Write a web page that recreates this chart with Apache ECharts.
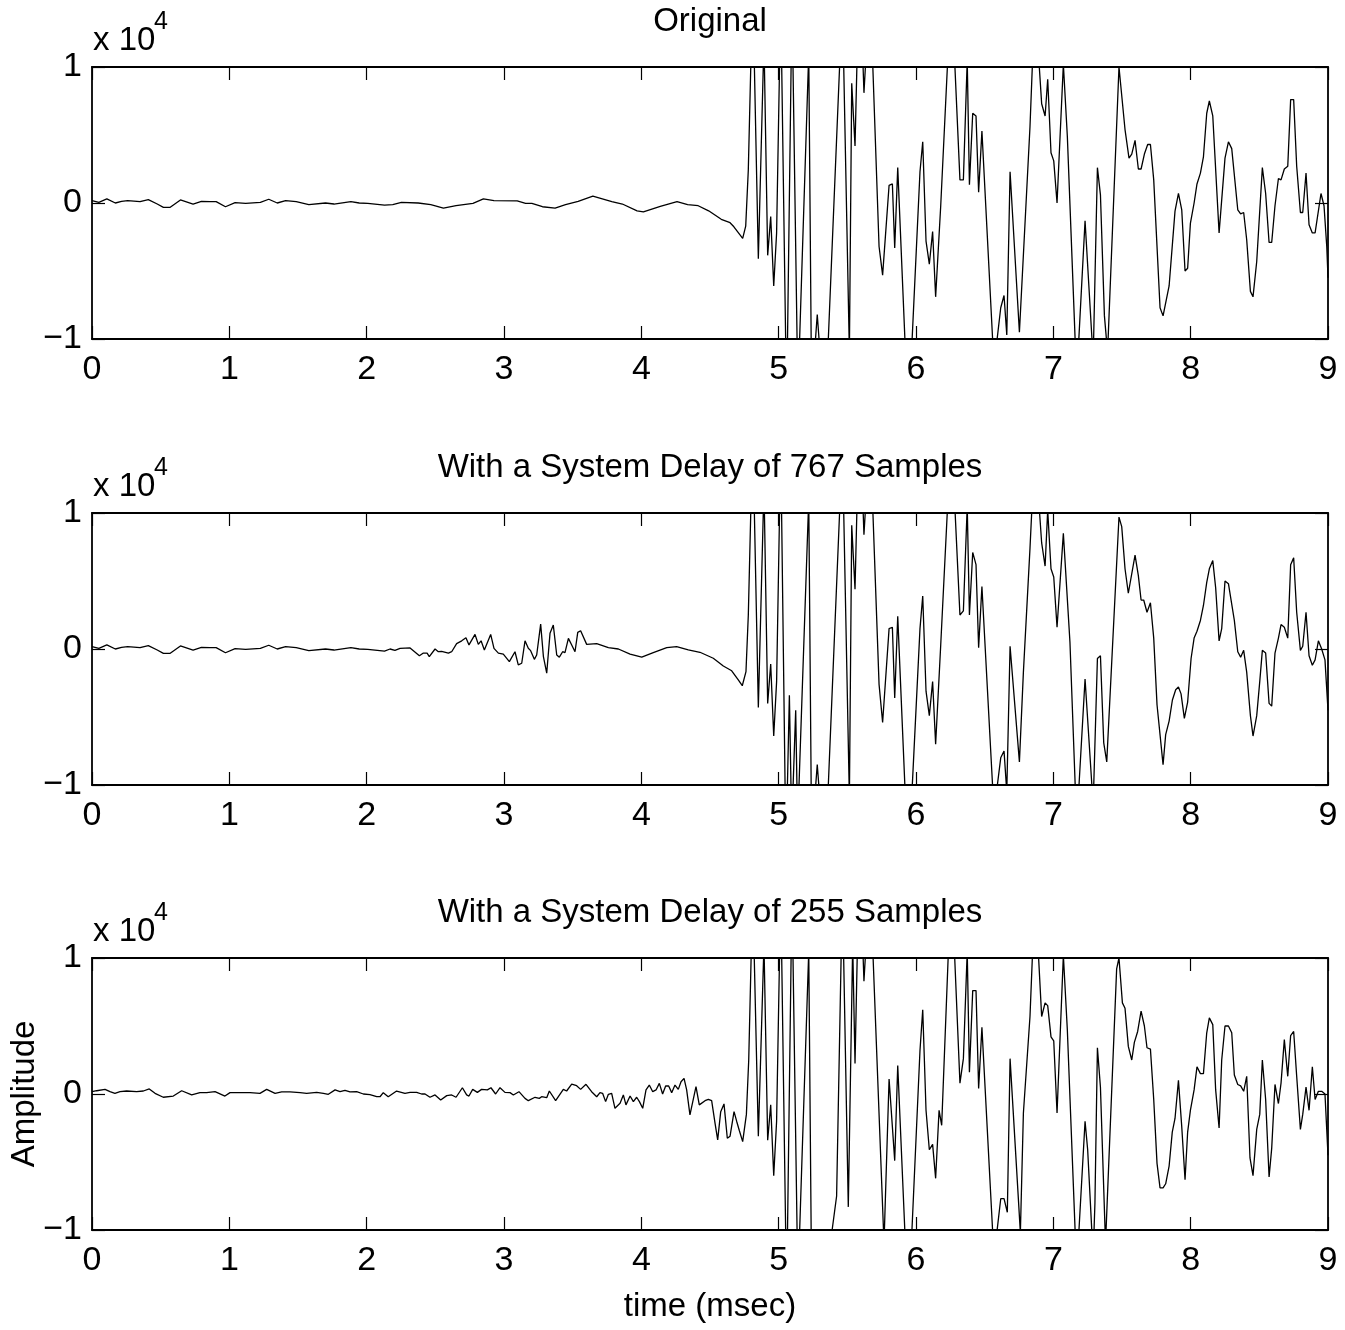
<!DOCTYPE html>
<html>
<head>
<meta charset="utf-8">
<script src="https://cdn.jsdelivr.net/npm/echarts@6/dist/echarts.min.js"></script>
<style>
html,body{margin:0;padding:0;background:#fff;}
#chart{width:1345px;height:1330px;}
</style>
</head>
<body>
<div id="chart"></div>
<script>
// ---- tick labels / text ----
const xTicks = [0,1,2,3,4,5,6,7,8,9];
const yTicks = [-1,0,1];
const panelTitles = ['Original', 'With a System Delay of 767 Samples', 'With a System Delay of 255 Samples'];
const xLabel = 'time (msec)';
const yLabel = 'Amplitude';
// amplitudes in units of 10^4, time in msec
const originalSignal = [[0,.0175],[0.05,.005],[0.108,.03],[0.17,0],[0.215,.0125],[0.26,.0175],[0.35,.01],[0.41,.025],[0.475,-.0075],[0.52,-.0325],[0.567,-.0325],[0.644,.0225],[0.736,-.0075],[0.797,.0125],[0.858,.01],[0.904,.01],[0.972,-.0275],[1.042,.0025],[1.119,-.0025],[1.226,.005],[1.287,.0275],[1.349,0],[1.41,.0175],[1.487,.01],[1.579,-.0125],[1.7,0],[1.762,-.0075],[1.885,.01],[1.946,0],[2.008,-.0025],[2.13,-.015],[2.19,-.0125],[2.253,.005],[2.375,0],[2.467,-.0125],[2.559,-.0375],[2.651,-.02],[2.774,-.0025],[2.85,.03],[2.927,.0175],[3.096,.015],[3.157,-.0025],[3.203,-.0025],[3.28,-.0275],[3.372,-.0375],[3.448,-.0125],[3.54,.0125],[3.647,.05],[3.785,.01],[3.862,-.0075],[3.969,-.0575],[4.015,-.065],[4.138,-.025],[4.26,.01],[4.337,-.0125],[4.414,-.02],[4.49,-.0575],[4.582,-.12],[4.646,-.145],[4.674,-.175],[4.738,-.26],[4.76,-.17],[4.779,.245],[4.811,1.6],[4.852,-.41],[4.893,1.2],[4.92,-.385],[4.942,-.10],[4.964,-.61],[4.985,-.22],[5.015,1.5],[5.058,-1.5],[5.097,1.5],[5.14,-1.4],[5.219,1.1],[5.24,-1.4],[5.281,-.82],[5.337,-1.6],[5.464,1.5],[5.515,-1.1],[5.532,.88],[5.556,.42],[5.588,1.8],[5.621,.81],[5.665,1.6],[5.731,-.32],[5.757,-.53],[5.804,.13],[5.828,.14],[5.845,-.33],[5.867,.26],[5.944,-1.6],[6.029,.23],[6.049,.45],[6.073,-.28],[6.097,-.45],[6.121,-.21],[6.143,-.69],[6.18,-.02],[6.257,1.6],[6.32,.17],[6.345,.17],[6.373,1.05],[6.389,.135],[6.413,.66],[6.437,.64],[6.456,.08],[6.48,.53],[6.568,-1.2],[6.617,-.77],[6.641,-.68],[6.661,-.97],[6.685,.23],[6.753,-.95],[6.83,.56],[6.866,1.5],[6.915,.73],[6.94,.64],[6.959,.91],[6.983,.37],[7.003,.31],[7.027,0],[7.073,1.02],[7.102,.49],[7.17,-1.3],[7.231,-.13],[7.29,-1.15],[7.321,.26],[7.343,.06],[7.372,-.83],[7.395,-1.1],[7.478,1.0],[7.522,.54],[7.551,.33],[7.571,.36],[7.595,.46],[7.619,.25],[7.639,.25],[7.663,.36],[7.687,.43],[7.707,.43],[7.731,.17],[7.777,-.77],[7.799,-.83],[7.843,-.61],[7.886,-.06],[7.911,.07],[7.935,-.05],[7.959,-.50],[7.978,-.48],[7.998,-.15],[8.025,0],[8.046,.14],[8.071,.22],[8.093,.34],[8.117,.66],[8.136,.75],[8.161,.64],[8.207,-.22],[8.25,.33],[8.275,.45],[8.299,.40],[8.343,-.05],[8.364,-.08],[8.386,-.07],[8.408,-.27],[8.435,-.65],[8.454,-.69],[8.481,-.43],[8.522,.26],[8.546,.07],[8.571,-.29],[8.59,-.29],[8.614,-.02],[8.639,.18],[8.658,.17],[8.682,.25],[8.707,.27],[8.728,.76],[8.75,.76],[8.772,.27],[8.799,-.07],[8.816,-.07],[8.84,.22],[8.862,-.16],[8.886,-.22],[8.906,-.22],[8.949,.07],[8.971,-.02],[8.991,-.32],[9.0,-.55]];
const delay767Signal = [[0,.0175],[0.05,.005],[0.108,.03],[0.17,0],[0.215,.0125],[0.26,.0175],[0.35,.01],[0.41,.025],[0.475,-.0075],[0.52,-.0325],[0.567,-.0325],[0.644,.0225],[0.736,-.0075],[0.797,.0125],[0.858,.01],[0.904,.01],[0.972,-.0275],[1.042,.0025],[1.119,-.0025],[1.226,.005],[1.287,.0275],[1.349,0],[1.41,.0175],[1.487,.01],[1.579,-.0125],[1.7,0],[1.762,-.0075],[1.885,.01],[1.946,0],[2.008,-.0025],[2.13,-.015],[2.17,0],[2.206,-.01],[2.243,.005],[2.316,.008],[2.384,-.05],[2.413,-.03],[2.44,-.03],[2.456,-.056],[2.498,0],[2.522,-.02],[2.546,-.017],[2.595,-.03],[2.619,-.02],[2.655,.04],[2.692,.06],[2.723,.083],[2.745,.03],[2.789,.107],[2.813,.034],[2.833,.06],[2.857,-.007],[2.903,.107],[2.927,.005],[2.959,-.03],[2.995,-.037],[3.039,-.093],[3.08,-.02],[3.104,-.117],[3.129,-.105],[3.153,.06],[3.177,.005],[3.194,-.012],[3.221,-.076],[3.238,-.044],[3.267,.183],[3.287,-.056],[3.311,-.178],[3.335,.115],[3.359,.176],[3.384,-.044],[3.403,-.06],[3.427,-.02],[3.444,-.027],[3.469,.078],[3.493,.03],[3.517,-.02],[3.537,.122],[3.558,.134],[3.602,.034],[3.675,.04],[3.76,.01],[3.833,0],[3.918,-.037],[4.003,-.06],[4.087,-.027],[4.185,.01],[4.257,.017],[4.342,-.007],[4.427,-.024],[4.524,-.068],[4.597,-.125],[4.658,-.16],[4.706,-.227],[4.735,-.27],[4.762,-.166],[4.779,.25],[4.811,1.6],[4.852,-.43],[4.893,1.2],[4.92,-.40],[4.942,-.11],[4.964,-.64],[4.985,-.24],[5.015,1.5],[5.053,-1.5],[5.078,-.34],[5.095,-1.3],[5.124,-.45],[5.138,-1.3],[5.219,1.1],[5.24,-1.4],[5.281,-.85],[5.337,-1.6],[5.464,1.5],[5.515,-1.1],[5.532,.91],[5.556,.44],[5.588,1.8],[5.621,.84],[5.665,1.6],[5.731,-.26],[5.757,-.54],[5.804,.15],[5.828,.16],[5.845,-.36],[5.867,.24],[5.944,-1.6],[6.029,.15],[6.049,.39],[6.073,-.31],[6.097,-.49],[6.121,-.24],[6.143,-.70],[6.18,.03],[6.257,1.6],[6.32,.25],[6.345,.28],[6.373,1.05],[6.389,.25],[6.413,.71],[6.437,.62],[6.456,.01],[6.48,.46],[6.568,-1.2],[6.617,-.80],[6.641,-.75],[6.661,-1.05],[6.685,.02],[6.753,-.83],[6.782,-.17],[6.83,.74],[6.866,1.5],[6.915,.78],[6.94,.61],[6.959,1.02],[6.983,.59],[7.003,.53],[7.027,.16],[7.073,.85],[7.121,.05],[7.17,-1.3],[7.231,-.22],[7.29,-1.15],[7.321,-.07],[7.343,-.05],[7.367,-.69],[7.389,-.83],[7.478,.97],[7.498,.90],[7.522,.59],[7.546,.41],[7.595,.69],[7.619,.54],[7.639,.36],[7.658,.36],[7.682,.27],[7.707,.34],[7.731,.08],[7.755,-.41],[7.799,-.85],[7.818,-.63],[7.843,-.53],[7.867,-.375],[7.891,-.30],[7.911,-.28],[7.93,-.33],[7.954,-.51],[7.978,-.39],[8.003,-.07],[8.025,.08],[8.046,.13],[8.071,.21],[8.093,.32],[8.117,.49],[8.136,.59],[8.161,.65],[8.182,.45],[8.207,.06],[8.226,.15],[8.25,.50],[8.275,.48],[8.318,.21],[8.343,-.02],[8.364,-.06],[8.386,-.01],[8.408,-.17],[8.435,-.49],[8.454,-.64],[8.481,-.49],[8.503,-.24],[8.522,-.01],[8.546,-.03],[8.571,-.40],[8.59,-.42],[8.614,-.03],[8.639,.08],[8.658,.18],[8.682,.16],[8.707,.08],[8.728,.62],[8.75,.67],[8.772,.27],[8.799,-.01],[8.816,.02],[8.84,.27],[8.862,-.05],[8.886,-.12],[8.906,-.08],[8.93,.06],[8.954,0],[8.978,-.08],[9.0,-.45]];
const delay255Signal = [[0,.017],[0.034,.024],[0.095,.034],[0.131,.017],[0.167,.005],[0.204,.017],[0.252,.022],[0.325,.017],[0.374,.022],[0.417,.037],[0.459,.005],[0.519,-.024],[0.592,-.015],[0.653,.024],[0.726,-.007],[0.786,.01],[0.835,.01],[0.896,.017],[0.968,-.015],[1.005,.01],[1.078,.01],[1.151,.01],[1.223,.005],[1.272,.034],[1.333,.005],[1.381,.015],[1.442,.015],[1.515,.01],[1.563,.005],[1.636,.012],[1.685,.005],[1.721,-.002],[1.77,.03],[1.806,.017],[1.842,.027],[1.879,.015],[1.927,.017],[1.976,0],[2.024,-.005],[2.073,-.02],[2.097,-.02],[2.121,.01],[2.157,-.02],[2.218,.022],[2.279,.005],[2.316,.012],[2.364,.012],[2.4,0],[2.425,0],[2.461,-.024],[2.498,-.007],[2.539,-.044],[2.583,-.012],[2.619,-.007],[2.651,-.024],[2.697,.046],[2.728,-.007],[2.745,-.015],[2.772,.034],[2.806,.012],[2.837,.034],[2.879,.03],[2.905,.046],[2.939,0],[2.971,.046],[3.007,.012],[3.044,.01],[3.068,-.007],[3.109,.017],[3.153,-.032],[3.177,-.049],[3.226,-.024],[3.257,-.032],[3.274,-.02],[3.311,-.027],[3.33,.022],[3.376,-.049],[3.432,.034],[3.456,.022],[3.493,.073],[3.529,.061],[3.558,.034],[3.597,.071],[3.638,.017],[3.675,-.02],[3.699,.01],[3.718,.005],[3.74,-.056],[3.76,-.002],[3.784,.005],[3.808,-.105],[3.845,-.068],[3.869,-.007],[3.888,-.08],[3.918,-.015],[3.942,-.056],[3.966,-.024],[3.986,-.056],[4.01,-.105],[4.034,.03],[4.058,.066],[4.083,.017],[4.107,.03],[4.131,.078],[4.155,0],[4.177,.059],[4.199,.059],[4.221,.01],[4.245,.066],[4.269,.034],[4.289,.09],[4.311,.115],[4.33,.03],[4.354,-.154],[4.398,.054],[4.422,-.08],[4.464,-.049],[4.488,-.039],[4.512,-.049],[4.536,-.21],[4.556,-.337],[4.578,-.13],[4.602,-.073],[4.626,-.325],[4.646,-.31],[4.675,-.13],[4.694,-.2],[4.714,-.27],[4.738,-.35],[4.765,-.15],[4.782,.25],[4.811,1.5],[4.852,-.31],[4.893,1.1],[4.92,-.34],[4.942,-.08],[4.964,-.60],[4.985,-.20],[5.015,1.5],[5.058,-1.5],[5.097,1.5],[5.14,-1.4],[5.219,1.05],[5.24,-1.4],[5.35,-1.3],[5.422,-.75],[5.464,1.5],[5.507,-.83],[5.539,1.1],[5.556,.225],[5.588,1.8],[5.621,.83],[5.665,1.6],[5.767,-1.1],[5.804,.11],[5.845,-.49],[5.867,.21],[5.944,-1.6],[6.029,.32],[6.049,.62],[6.073,-.12],[6.097,-.41],[6.121,-.37],[6.143,-.62],[6.168,-.12],[6.187,-.23],[6.257,1.6],[6.32,.08],[6.345,.26],[6.373,1.05],[6.389,.16],[6.413,.76],[6.437,.76],[6.456,.04],[6.48,.49],[6.568,-1.2],[6.617,-.77],[6.641,-.77],[6.665,-.87],[6.685,.26],[6.76,-1.02],[6.782,-.14],[6.83,.57],[6.867,1.5],[6.915,.57],[6.94,.67],[6.959,.65],[6.983,.42],[7.003,.39],[7.027,-.14],[7.073,1.02],[7.102,.47],[7.17,-1.3],[7.231,-.20],[7.25,-.41],[7.29,-1.2],[7.303,-.80],[7.321,.34],[7.343,.05],[7.38,-1.1],[7.461,.92],[7.478,1.0],[7.503,.67],[7.522,.63],[7.546,.35],[7.571,.25],[7.59,.38],[7.614,.46],[7.639,.61],[7.663,.50],[7.682,.34],[7.707,.33],[7.731,-.04],[7.755,-.51],[7.777,-.69],[7.799,-.69],[7.818,-.66],[7.843,-.53],[7.866,-.28],[7.886,-.18],[7.911,.10],[7.935,-.24],[7.959,-.63],[7.978,-.28],[7.998,-.12],[8.025,.03],[8.046,.20],[8.071,.15],[8.093,.15],[8.117,.45],[8.136,.56],[8.161,.51],[8.182,.03],[8.207,-.25],[8.226,.25],[8.25,.50],[8.275,.50],[8.299,.45],[8.318,.14],[8.343,.07],[8.364,.06],[8.386,.02],[8.408,.13],[8.432,-.47],[8.454,-.60],[8.481,-.26],[8.503,-.15],[8.522,.25],[8.546,-.04],[8.571,-.61],[8.59,-.40],[8.614,.07],[8.639,-.07],[8.658,.08],[8.682,.40],[8.707,.13],[8.728,.43],[8.75,.46],[8.772,.13],[8.799,-.26],[8.816,-.15],[8.84,.05],[8.862,-.12],[8.886,.20],[8.906,-.04],[8.93,.02],[8.954,.02],[8.978,0],[9.0,-.45]];

const signals = [originalSignal, delay767Signal, delay255Signal];

// ---- layout ----
const FONT = '"Liberation Sans", Arial, Helvetica, sans-serif';
const gridTops = [67, 513, 958];
const GRID_LEFT = 92, GRID_W = 1236, GRID_H = 272;

const grids = [], xAxes = [], yAxes = [], series = [], graphics = [];
const minusFmt = v => (v < 0 ? '\u2212' + Math.abs(v) : String(v));

gridTops.forEach((top, i) => {
  grids.push({ left: GRID_LEFT, top: top, width: GRID_W, height: GRID_H, containLabel: false });
  const axLine = { show: true, onZero: false, lineStyle: { color: '#000', width: 1.8 } };
  const tick = { show: true, inside: true, length: 13, lineStyle: { color: '#000', width: 1.2 } };
  xAxes.push({ gridIndex: i, type: 'value', position: 'bottom', min: xTicks[0], max: xTicks[xTicks.length - 1], interval: 1,
    axisLine: axLine, axisTick: tick, splitLine: { show: false },
    axisLabel: { show: true, color: '#000', fontSize: 34, fontFamily: FONT, margin: 14 } });
  xAxes.push({ gridIndex: i, type: 'value', position: 'top', min: xTicks[0], max: xTicks[xTicks.length - 1], interval: 1,
    axisLine: axLine, axisTick: tick, splitLine: { show: false }, axisLabel: { show: false } });
  yAxes.push({ gridIndex: i, type: 'value', position: 'left', min: yTicks[0], max: yTicks[yTicks.length - 1], interval: 1,
    axisLine: axLine, axisTick: tick, splitLine: { show: false },
    axisLabel: { show: true, color: '#000', fontSize: 34, fontFamily: FONT, margin: 10, formatter: minusFmt } });
  yAxes.push({ gridIndex: i, type: 'value', position: 'right', min: yTicks[0], max: yTicks[yTicks.length - 1], interval: 1,
    axisLine: axLine, axisTick: tick, splitLine: { show: false }, axisLabel: { show: false } });
  series.push({ type: 'line', xAxisIndex: i * 2, yAxisIndex: i * 2, data: signals[i], showSymbol: false, symbol: 'none',
    clip: true, lineStyle: { color: '#000', width: 1.3 }, animation: false, z: 1 });
  // titles
  graphics.push({ type: 'text', x: GRID_LEFT + GRID_W / 2, y: top - 45,
    style: { text: panelTitles[i], fill: '#000', font: '33px ' + FONT, textAlign: 'center', textVerticalAlign: 'middle' } });
  // exponent label
  graphics.push({ type: 'text', x: 93, y: top - 26,
    style: { text: 'x 10', fill: '#000', font: '33px ' + FONT, textAlign: 'left', textVerticalAlign: 'middle' } });
  graphics.push({ type: 'text', x: 154, y: top - 45,
    style: { text: '4', fill: '#000', font: '25px ' + FONT, textAlign: 'left', textVerticalAlign: 'middle' } });
});

graphics.push({ type: 'text', x: GRID_LEFT + GRID_W / 2, y: 1307,
  style: { text: xLabel, fill: '#000', font: '33px ' + FONT, textAlign: 'center', textVerticalAlign: 'middle' } });
graphics.push({ type: 'text', x: 25, y: gridTops[2] + GRID_H / 2, rotation: Math.PI / 2,
  style: { text: yLabel, fill: '#000', font: '33px ' + FONT, textAlign: 'center', textVerticalAlign: 'middle' } });

const chart = echarts.init(document.getElementById('chart'), null, { renderer: 'canvas' });
chart.setOption({
  backgroundColor: '#fff',
  animation: false,
  grid: grids,
  xAxis: xAxes,
  yAxis: yAxes,
  series: series,
  graphic: graphics
});
</script>
</body>
</html>
